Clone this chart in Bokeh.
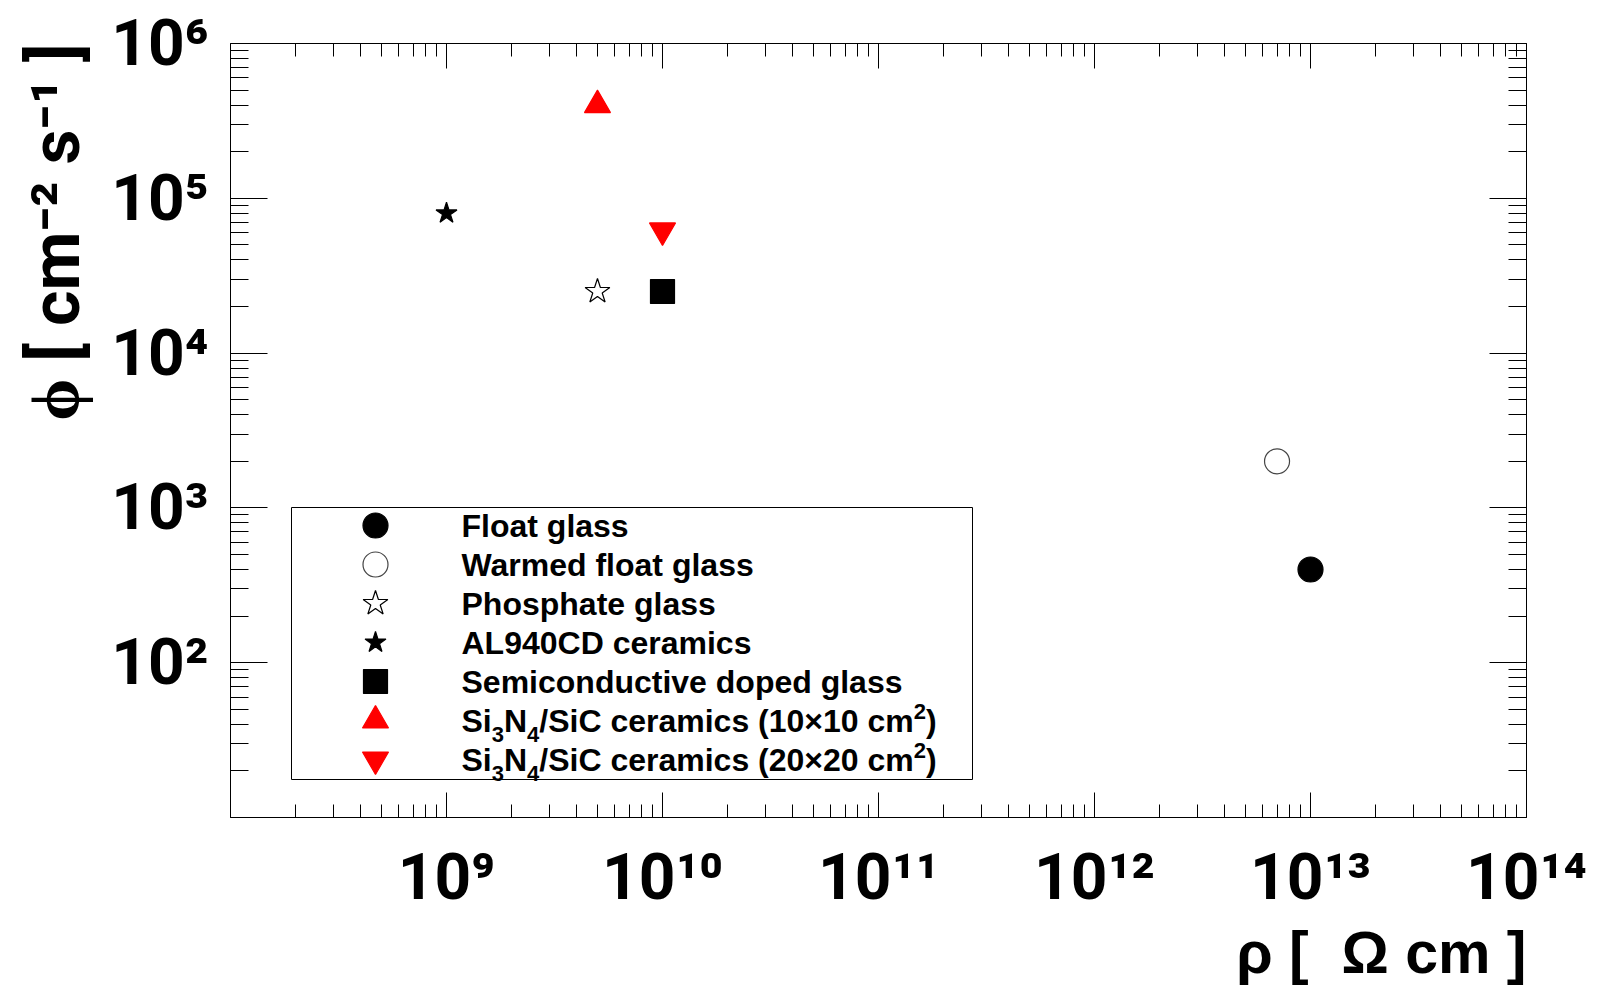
from bokeh.plotting import figure
from bokeh.models import (Range1d, LogAxis, FixedTicker, CustomJSTickFormatter,
                          Label, BoxAnnotation, Title)
from bokeh.embed import file_html
from bokeh.resources import INLINE

# ---------------- data ----------------
materials = [
    "Float glass",
    "Warmed float glass",
    "Phosphate glass",
    "AL940CD ceramics",
    "Semiconductive doped glass",
    "Si\u2083N\u2084/SiC ceramics (10\u00d710 cm\u00b2)",
    "Si\u2083N\u2084/SiC ceramics (20\u00d720 cm\u00b2)",
]
resistivity = [1e13, 7e12, 5e9, 1e9, 1e10, 5e9, 1e10]      # rho [Ohm cm]
flux = [4e2, 2e3, 2.5e4, 8e4, 2.5e4, 4e5, 6.2e4]            # phi [cm^-2 s^-1]

x_decades = [8, 9, 10, 11, 12, 13, 14]
y_decades = [1, 2, 3, 4, 5, 6]
x_label_exponents = [9, 10, 11, 12, 13, 14]
y_label_exponents = [2, 3, 4, 5, 6]
x_title = "\u03c1 [\u00a0 \u03a9 cm ]"
y_title = "\u03d5 [ cm\u207b\u00b2 s\u207b\u00b9 ]"

# ---------------- styles ----------------
marker_types = ["circle", "circle", "star", "star", "square", "triangle", "inverted_triangle"]
fill_colors = ["black", "white", "white", "black", "black", "red", "red"]
line_colors = ["black", "#444444", "black", "black", "black", "red", "red"]
marker_sizes = [25, 25, 26, 22, 24, 26, 26]

FONT = "Liberation Sans"
TICKFONT = "Roboto"
W, H = 1604, 986
LEFT, RIGHT, TOP, BOTTOM = 230, 78, 43, 169
FRAME_H = H - TOP - BOTTOM
FRAME_W = W - LEFT - RIGHT

xmin, xmax = 10.0 ** x_decades[0], 10.0 ** x_decades[-1]
ymin, ymax = 10.0 ** y_decades[0], 10.0 ** y_decades[-1]

p = figure(width=W, height=H, x_axis_type="log", y_axis_type="log",
           x_range=Range1d(xmin, xmax), y_range=Range1d(ymin, ymax),
           output_backend="svg", toolbar_location=None,
           min_border_left=LEFT, min_border_right=RIGHT,
           min_border_top=TOP, min_border_bottom=BOTTOM)
p.xgrid.visible = False
p.ygrid.visible = False
p.outline_line_color = "black"
p.outline_line_width = 1
p.background_fill_color = "white"
p.border_fill_color = "white"


def make_ticker(decs):
    majors = [10.0 ** d for d in decs]
    minors = [k * 10.0 ** d for d in decs[:-1] for k in range(2, 10)]
    return FixedTicker(ticks=majors, minor_ticks=minors)


SUP_JS = """
const e = Math.round(Math.log10(tick));
if (!labelled.includes(e)) return "";
const sup = "\u2070\u00b9\u00b2\u00b3\u2074\u2075\u2076\u2077\u2078\u2079";
return "10" + String(e).split("").map(c => sup[Number(c)]).join("");
"""


def style_axis(ax, decs, major_len, minor_len, labelled=None):
    ax.ticker = make_ticker(decs)
    if labelled is None:
        ax.formatter = CustomJSTickFormatter(code="return ''")
    else:
        ax.formatter = CustomJSTickFormatter(code=SUP_JS, args={"labelled": labelled})
    ax.major_tick_in = major_len
    ax.major_tick_out = 0
    ax.minor_tick_in = minor_len
    ax.minor_tick_out = 0
    ax.axis_line_color = None
    ax.major_tick_line_color = "black"
    ax.minor_tick_line_color = "black"
    ax.major_tick_line_width = 1
    ax.minor_tick_line_width = 1
    ax.major_label_text_font = TICKFONT
    ax.major_label_text_font_style = "bold"
    ax.major_label_text_font_size = "64px"
    ax.major_label_text_color = "black"


xa = p.xaxis[0]
ya = p.yaxis[0]
style_axis(xa, x_decades, 25, 13, x_label_exponents)
style_axis(ya, y_decades, 37, 18, y_label_exponents)
xa.major_label_standoff = 22
ya.major_label_standoff = 22

top_ax = LogAxis()
right_ax = LogAxis()
style_axis(top_ax, x_decades, 25, 13)
style_axis(right_ax, y_decades, 37, 18)
top_ax.major_label_standoff = 0
right_ax.major_label_standoff = 0
p.add_layout(top_ax, "above")
p.add_layout(right_ax, "right")

# axis titles (ROOT style: right / top aligned)
p.add_layout(Title(text=x_title, align="right", vertical_align="bottom", standoff=0,
                   text_font=FONT, text_font_style="bold", text_font_size="59px",
                   text_color="black"), "below")
p.add_layout(Title(text=y_title, align="right", vertical_align="bottom", standoff=26,
                   text_font=TICKFONT, text_font_style="bold", text_font_size="68px",
                   text_color="black"), "left")

# ---------------- points ----------------
for i in range(len(materials)):
    p.scatter(x=[resistivity[i]], y=[flux[i]], marker=marker_types[i],
              size=marker_sizes[i], fill_color=fill_colors[i],
              line_color=line_colors[i], line_width=1.2)


# ---------------- legend (ROOT-like, with real sub/superscripts) ----------------
def px_to_x(px):
    return 10.0 ** (x_decades[0] + (px - LEFT) * (x_decades[-1] - x_decades[0]) / FRAME_W)


def py_to_y(py):
    return 10.0 ** (y_decades[-1] - (py - TOP) * (y_decades[-1] - y_decades[0]) / FRAME_H)


BOX_L, BOX_R, BOX_T, BOX_B = 291, 972, 507, 779
ROW0, ROW_STEP = BOX_T + 18, 39
KEY_X, TEXT_X = 375, 461
LEG_SIZE, SMALL_SIZE = 32, 22

p.add_layout(BoxAnnotation(left=px_to_x(BOX_L), right=px_to_x(BOX_R),
                           top=py_to_y(BOX_T), bottom=py_to_y(BOX_B),
                           fill_color="white", fill_alpha=1.0, level="underlay",
                           line_color="black", line_alpha=1.0, line_width=1))

# Arial/Liberation Sans Bold advance widths (per 1000 em)
ADV = {"S": 667, "i": 278, "N": 722, "/": 278, "C": 722, " ": 278, "c": 556,
       "e": 556, "r": 389, "a": 556, "m": 889, "s": 556, "(": 333, ")": 333,
       "\u00d7": 584}
SUBS = {"\u2080": "0", "\u2081": "1", "\u2082": "2", "\u2083": "3", "\u2084": "4"}
SUPS = {"\u00b2": "2", "\u00b3": "3", "\u00b9": "1"}


def split_pieces(label):
    pieces, buf = [], ""
    for ch in label:
        if ch in SUBS or ch in SUPS:
            if buf:
                pieces.append(("n", buf))
                buf = ""
            pieces.append(("sub" if ch in SUBS else "sup", SUBS.get(ch, SUPS.get(ch))))
        else:
            buf += ch
    if buf:
        pieces.append(("n", buf))
    return pieces


def text_width(txt, size):
    return sum(ADV.get(c, 556) for c in txt) * size / 1000.0


for i, name in enumerate(materials):
    row_y = ROW0 + i * ROW_STEP
    p.scatter(x=[px_to_x(KEY_X)], y=[py_to_y(row_y)], marker=marker_types[i],
              size=marker_sizes[i], fill_color=fill_colors[i],
              line_color=line_colors[i], line_width=1.2)
    anchor_x, anchor_y = px_to_x(TEXT_X), py_to_y(row_y)
    off = 0.0
    for kind, txt in split_pieces(name):
        size = LEG_SIZE if kind == "n" else SMALL_SIZE
        dy = {"n": 0, "sub": -13.5, "sup": 9.5}[kind]
        p.add_layout(Label(x=anchor_x, y=anchor_y, text=txt, x_offset=off, y_offset=dy,
                           text_align="left", text_baseline="middle",
                           text_font=FONT, text_font_style="bold",
                           text_font_size=f"{size}px", text_color="black"))
        off += text_width(txt, size)

open("out.html", "w").write(file_html(p, INLINE))
